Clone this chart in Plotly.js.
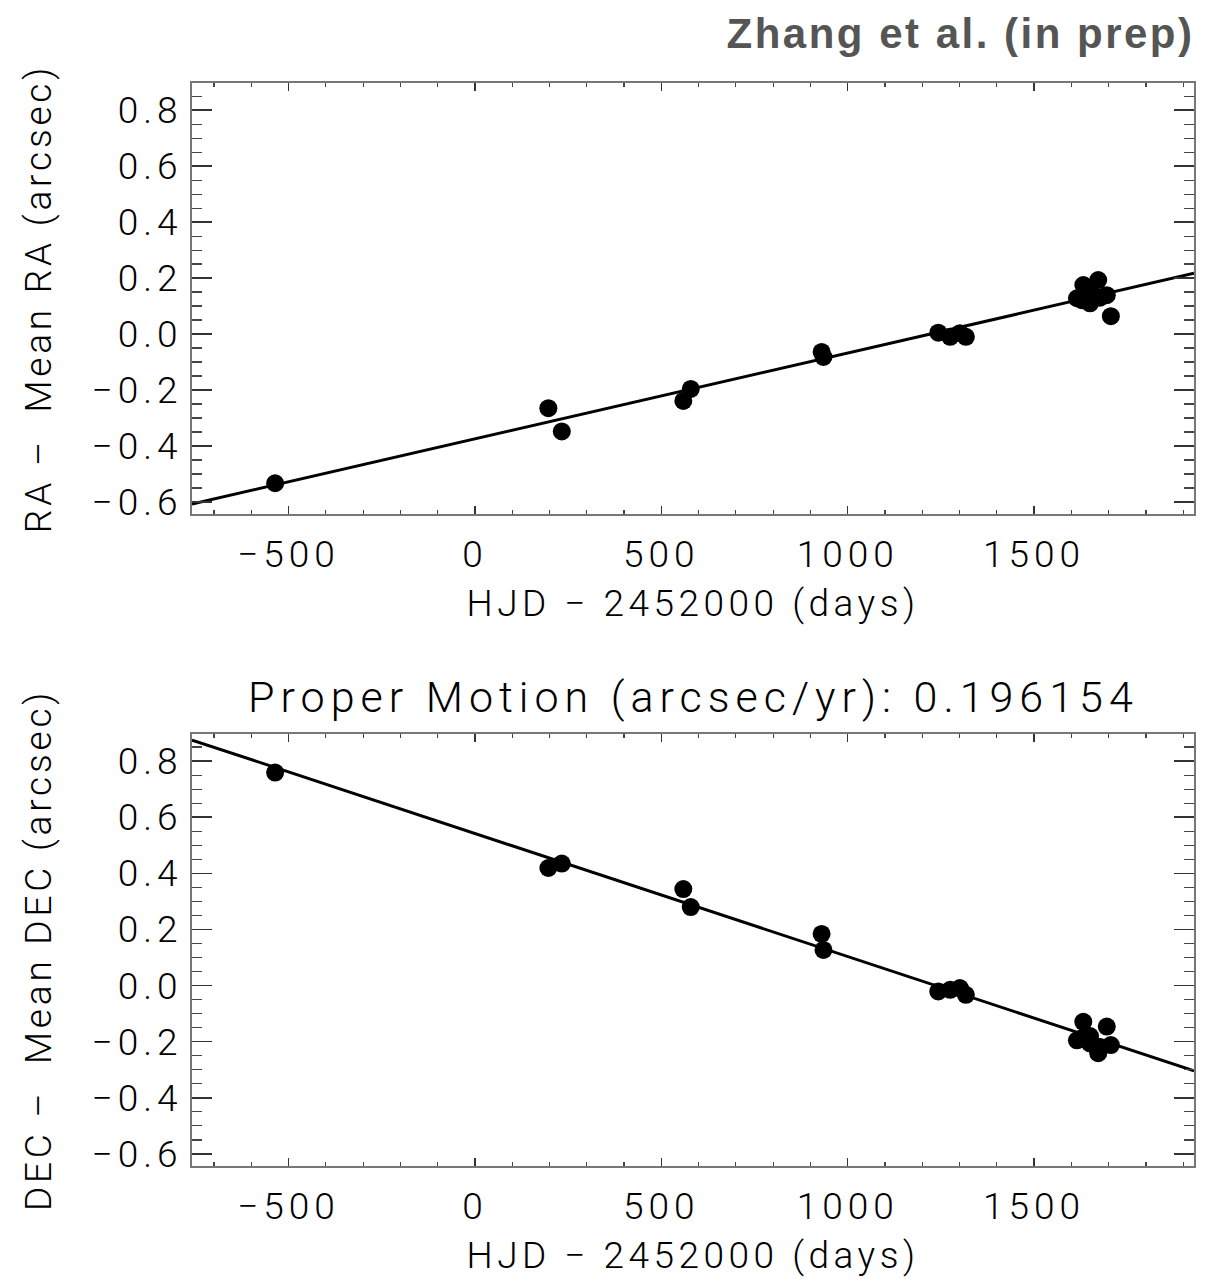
<!DOCTYPE html>
<html>
<head>
<meta charset="utf-8">
<script src="https://cdn.plot.ly/plotly-3.0.1.min.js"></script>
<style>
html,body{margin:0;padding:0;background:#fff;}
#chart{width:1224px;height:1279px;}
.xtick text, .x2tick text, .ytick text, .y2tick text {letter-spacing: 5px;}
.xtitle, .x2title {letter-spacing: 4.5px;}
.ytitle, .y2title {letter-spacing: 3.8px;}
.annotation-text.title-ann {letter-spacing: 6px;}
.annotation-text.credit-ann {letter-spacing: 2.5px;}
</style>
</head>
<body>
<div id="chart"></div>
<script>
// Observation epochs, HJD - 2452000 (days)
const epochs = [-536, 197, 233, 559, 579, 930, 935, 1243, 1275, 1301, 1317,
                1615, 1628, 1632, 1650, 1650, 1672, 1677, 1695, 1706];
// RA - mean RA (arcsec)
const raOffsets = [-0.533, -0.265, -0.348, -0.239, -0.196, -0.064, -0.082, 0.005, -0.010, 0.003, -0.010,
                   0.128, 0.121, 0.175, 0.110, 0.157, 0.193, 0.130, 0.139, 0.064];
// DEC - mean DEC (arcsec)
const decOffsets = [0.759, 0.419, 0.435, 0.344, 0.280, 0.184, 0.127, -0.021, -0.015, -0.009, -0.033,
                    -0.195, -0.188, -0.129, -0.206, -0.180, -0.241, -0.219, -0.146, -0.212];
// Linear fits (endpoints across the plotted range)
const fitX = [-759, 1929];
const raFitY = [-0.607, 0.217];
const decFitY = [0.875, -0.304];
const xTicks = [-500, 0, 500, 1000, 1500];
const yTicks = [-0.6, -0.4, -0.2, 0.0, 0.2, 0.4, 0.6, 0.8];
const titleText = "Proper Motion (arcsec/yr): 0.196154";
const creditText = "Zhang et al. (in prep)";
const xTitle = "HJD \u2212 2452000 (days)";
const raTitle = "RA\u00a0\u2013\u00a0\u00a0Mean RA\u00a0(arcsec)";
const decTitle = "DEC\u00a0\u2013\u00a0\u00a0Mean DEC\u00a0(arcsec)";

const FONT = "Roboto, 'Liberation Sans', sans-serif";
const tickFont = {family: FONT, size: 37, color: '#000', weight: 300};
const titleFont = {family: FONT, size: 37, color: '#000', weight: 300};

function xax(anchor, ttl) {
  return {
    anchor: anchor, range: [-759, 1929], tickmode: 'array', tickvals: xTicks,
    ticktext: xTicks.map(v => v < 0 ? '\u2212' + Math.abs(v) : String(v)),
    ticks: 'inside', ticklen: 8, tickwidth: 1.5, tickcolor: '#333',
    minor: {dtick: 100, ticks: 'inside', ticklen: 4, tickwidth: 1.2, tickcolor: '#444', showgrid: false},
    showline: true, linecolor: '#777', linewidth: 2, mirror: 'ticks',
    showgrid: false, zeroline: false, tickfont: tickFont, ticklabelstandoff: 7,
    title: {text: ttl, font: titleFont, standoff: 15}
  };
}
function yax(anchor, dom, ttl) {
  return {
    anchor: anchor, domain: dom, range: [-0.643, 0.897], tickmode: 'array', tickvals: yTicks,
    ticktext: yTicks.map(v => (v < 0 ? '\u2212' : '') + Math.abs(v).toFixed(1)),
    ticks: 'inside', ticklen: 20, tickwidth: 1.5, tickcolor: '#333',
    minor: {dtick: 0.05, ticks: 'inside', ticklen: 10, tickwidth: 1.2, tickcolor: '#444', showgrid: false},
    showline: true, linecolor: '#777', linewidth: 2, mirror: 'ticks',
    showgrid: false, zeroline: false, tickfont: tickFont, ticklabelstandoff: 0,
    title: {text: ttl, font: titleFont, standoff: 29}
  };
}

const traces = [
  {x: fitX, y: raFitY, xaxis: 'x', yaxis: 'y', mode: 'lines', line: {color: '#000', width: 3}, hoverinfo: 'skip'},
  {x: epochs, y: raOffsets, xaxis: 'x', yaxis: 'y', mode: 'markers', marker: {color: '#000', size: 18}},
  {x: fitX, y: decFitY, xaxis: 'x2', yaxis: 'y2', mode: 'lines', line: {color: '#000', width: 3}, hoverinfo: 'skip'},
  {x: epochs, y: decOffsets, xaxis: 'x2', yaxis: 'y2', mode: 'markers', marker: {color: '#000', size: 18}}
];

const layout = {
  width: 1224, height: 1279, showlegend: false,
  paper_bgcolor: '#fff', plot_bgcolor: '#fff',
  margin: {l: 192, r: 30, t: 83, b: 113},
  xaxis: xax('y', xTitle),
  yaxis: yax('x', [0.602, 1], raTitle),
  xaxis2: xax('y2', xTitle),
  yaxis2: yax('x2', [0, 0.399], decTitle),
  annotations: [
    {text: creditText, xref: 'paper', yref: 'paper', x: 0.975, y: 1.046, xanchor: 'right', yanchor: 'middle',
     showarrow: false, font: {family: "'Liberation Sans', Arial, sans-serif", size: 42, color: '#555', weight: 700}},
    {text: titleText, xref: 'paper', yref: 'paper', x: 0.5, y: 0.433, xanchor: 'center', yanchor: 'middle',
     showarrow: false, font: {family: FONT, size: 43, color: '#000', weight: 300}}
  ]
};

Plotly.newPlot('chart', traces, layout, {staticPlot: true, displayModeBar: false}).then(gd => {
  const anns = gd.querySelectorAll('.annotation-text');
  if (anns[0]) anns[0].classList.add('credit-ann');
  if (anns[1]) anns[1].classList.add('title-ann');
});
</script>
</body>
</html>
